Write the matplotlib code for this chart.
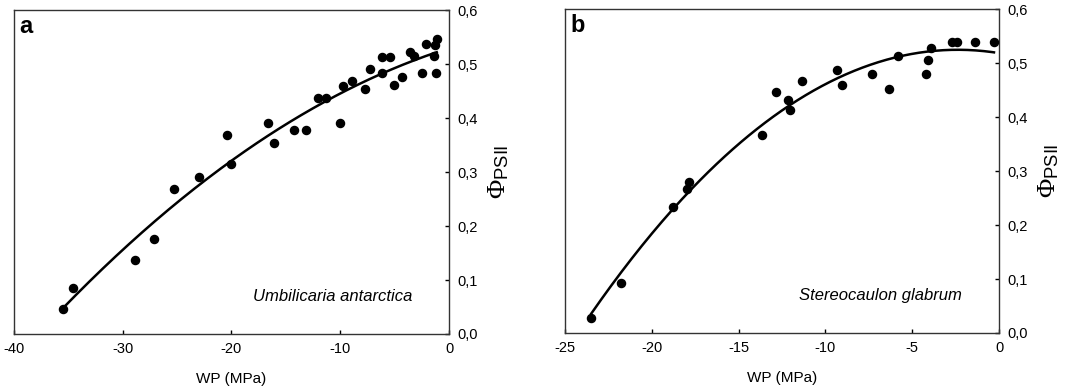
import numpy as np
import matplotlib
matplotlib.use("Agg")
import matplotlib.pyplot as plt
from matplotlib.ticker import FuncFormatter

plt.rcParams['font.family'] = ['Liberation Sans', 'DejaVu Sans']
plt.rcParams['mathtext.fontset'] = 'custom'
plt.rcParams['mathtext.rm'] = 'Liberation Serif'
plt.rcParams['mathtext.sf'] = 'Liberation Sans'
plt.rcParams['mathtext.it'] = 'Liberation Serif:italic'
plt.rcParams['axes.unicode_minus'] = False

# --- panel a: Umbilicaria antarctica ---
wp_a = [-35.47, -34.55, -28.86, -27.08, -25.25, -22.95, -20.44, -20.02, -16.62, -16.13,
        -14.29, -13.19, -12.06, -11.35, -10.01, -9.79, -8.88, -7.74, -7.31, -6.15,
        -6.15, -5.45, -5.02, -4.32, -3.58, -3.21, -2.51, -2.08, -1.38, -1.29,
        -1.13, -1.16]
phi_a = [0.046, 0.085, 0.137, 0.176, 0.269, 0.291, 0.369, 0.314, 0.391, 0.353,
         0.377, 0.377, 0.438, 0.438, 0.391, 0.459, 0.469, 0.453, 0.491, 0.514,
         0.484, 0.514, 0.461, 0.476, 0.522, 0.515, 0.484, 0.537, 0.515, 0.536,
         0.546, 0.484]

# --- panel b: Stereocaulon glabrum ---
wp_b = [-23.50, -21.79, -18.78, -17.97, -17.84, -13.65, -12.85, -12.17, -12.02, -11.35,
        -9.31, -9.04, -7.32, -6.34, -5.80, -4.19, -4.07, -3.92, -2.69, -2.44,
        -1.36, -0.29]
phi_b = [0.027, 0.093, 0.233, 0.267, 0.280, 0.367, 0.447, 0.433, 0.413, 0.468,
         0.487, 0.460, 0.481, 0.453, 0.513, 0.481, 0.507, 0.528, 0.540, 0.540,
         0.540, 0.540]

panels = [
    ("a", "Umbilicaria antarctica", wp_a, phi_a, (-40, 0), [-40, -30, -20, -10, 0]),
    ("b", "Stereocaulon glabrum", wp_b, phi_b, (-25, 0), [-25, -20, -15, -10, -5, 0]),
]
yticks = [0.0, 0.1, 0.2, 0.3, 0.4, 0.5, 0.6]

fig = plt.figure(figsize=(10.82, 3.89), dpi=100)
boxes = [[0.0129, 0.1414, 0.4021, 0.8327], [0.5222, 0.1440, 0.4011, 0.8316]]

comma = FuncFormatter(lambda v, p: f"{v:.1f}".replace(".", ","))

for (letter, species, x, y, xlim, xticks), box in zip(panels, boxes):
    ax = fig.add_axes(box)
    x = np.array(x)
    y = np.array(y)
    ax.scatter(x, y, s=34, color="black", zorder=3)

    # second order regression through the points
    coef = np.polyfit(x, y, 2)
    xs = np.linspace(x.min(), x.max(), 200)
    ax.plot(xs, np.polyval(coef, xs), color="black", lw=1.8)

    ax.set_xlim(*xlim)
    ax.set_ylim(0, 0.6)
    ax.set_xticks(xticks)
    ax.set_yticks(yticks)
    ax.yaxis.set_major_formatter(comma)
    ax.yaxis.tick_right()
    ax.yaxis.set_label_position("right")
    ax.tick_params(direction="in", length=3, width=1, labelsize=10.5, pad=6)
    for sp in ax.spines.values():
        sp.set_linewidth(1.0)
        sp.set_color("#333333")

    ax.set_xlabel("WP (MPa)", fontsize=11, labelpad=11)
    ax.set_ylabel(r"$\Phi_{\mathsf{PSII}}$", fontsize=19, rotation=90, labelpad=6)
    ax.text(0.012, 0.985, letter, transform=ax.transAxes, fontsize=17,
            fontweight="bold", va="top", ha="left")
    ax.text(0.915, 0.115, species, transform=ax.transAxes, fontsize=12,
            style="italic", ha="right", va="center")

fig.savefig("out.png", dpi=100)
